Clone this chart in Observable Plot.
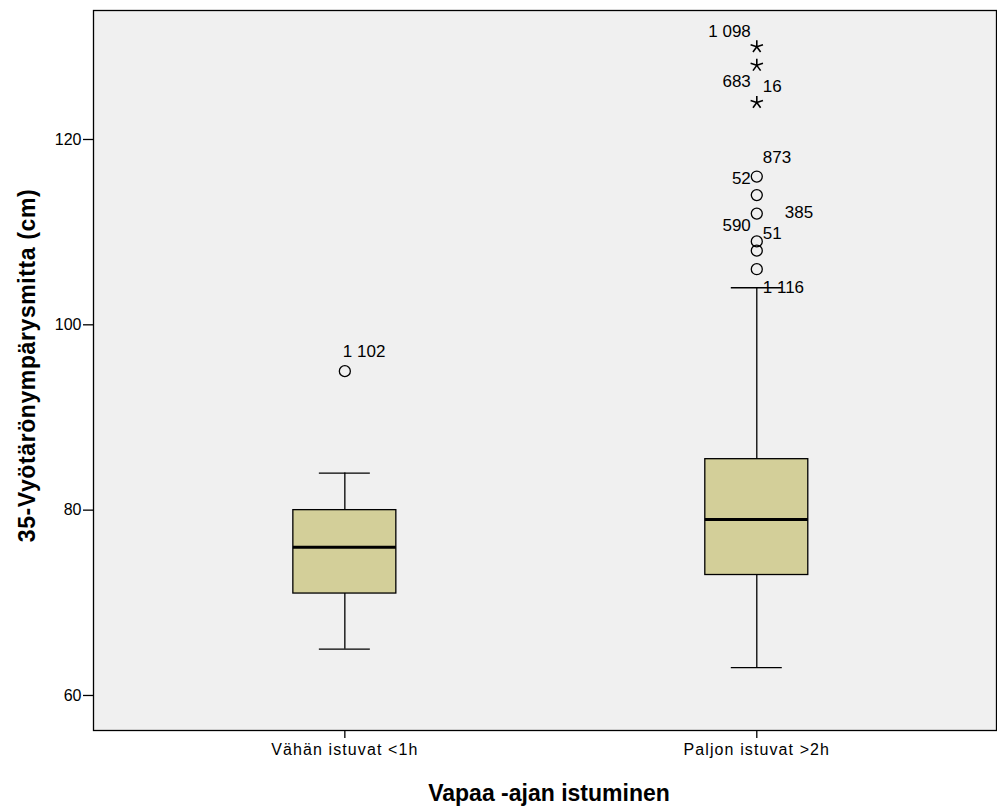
<!DOCTYPE html>
<html>
<head>
<meta charset="utf-8">
<script src="https://cdn.jsdelivr.net/npm/d3@7"></script>
<script src="https://cdn.jsdelivr.net/npm/@observablehq/plot@0.6"></script>
<style>
  html, body { margin: 0; padding: 0; background: #ffffff; }
  #chart { width: 997px; height: 808px; }
  #chart g[aria-label="x-axis tick label"] text { letter-spacing: 1.1px; }
  #chart g.ytitle text { letter-spacing: 0.6px; }
</style>
</head>
<body>
<div id="chart"></div>
<script>
// ---- data ----
const groups = ["Vähän istuvat <1h", "Paljon istuvat >2h"];
const whiskerLow = [65, 63];
const q1 = [71, 73];
const median = [76, 79];
const q3 = [80, 85.5];
const whiskerHigh = [84, 104];

// outliers: group index, value, kind ("o" = outlier, "*" = extreme)
const outlierGroup = [0, 1, 1, 1, 1, 1, 1, 1, 1, 1];
const outlierValue = [95, 116, 114, 112, 109, 108, 106, 130, 128, 124];
const outlierKind  = ["o", "o", "o", "o", "o", "o", "o", "*", "*", "*"];

// case labels for outliers: text, group index, value at label, side
const caseLabels     = ["1 102", "1 098", "683", "16", "873", "52", "385", "590", "51", "1 116"];
const caseLabelGroup = [0, 1, 1, 1, 1, 1, 1, 1, 1, 1];
const caseLabelValue = [97.1, 131.6, 126.3, 125.7, 118.0, 115.8, 112.1, 110.7, 109.8, 104.0];
const caseLabelSide  = ["top", "left", "left", "right", "right", "left", "far", "left", "right", "right"];

const yTicks = [60, 80, 100, 120];
const xTitle = "Vapaa -ajan istuminen";
const yTitle = "35-Vyötärönympärysmitta (cm)";

// ---- tables ----
const stats = groups.map((g, i) => ({
  group: g, lo: whiskerLow[i], q1: q1[i], med: median[i], q3: q3[i], hi: whiskerHigh[i]
}));
const outliers = outlierValue.map((v, i) => ({group: groups[outlierGroup[i]], value: v, kind: outlierKind[i]}));
const labels = caseLabels.map((t, i) => ({text: t, group: groups[caseLabelGroup[i]], value: caseLabelValue[i], side: caseLabelSide[i]}));

const star5 = {
  draw(context, size) {
    const r = Math.sqrt(size / Math.PI);
    for (let k = 0; k < 5; ++k) {
      const a = (-90 + 72 * k) * Math.PI / 180;
      context.moveTo(0, 0);
      context.lineTo(r * Math.cos(a), r * Math.sin(a));
    }
  }
};

const font = "'Liberation Sans', Arial, sans-serif";

const chart = Plot.plot({
  width: 997,
  height: 808,
  marginLeft: 93,
  marginRight: 1,
  marginTop: 10,
  marginBottom: 78,
  style: {fontFamily: font, fontSize: "16px", background: "#ffffff", color: "#000"},
  x: {type: "band", domain: groups, paddingInner: 0.75, paddingOuter: 0.471, align: 0.515, round: false, label: null},
  y: {domain: [56.22, 133.92], label: null},
  marks: [
    Plot.frame({fill: "#f0f0f0", stroke: null}),
    Plot.axisY({ticks: yTicks, tickSize: 10, tickPadding: 2, fontSize: 16, label: null, stroke: "#000", strokeWidth: 1.3}),
    Plot.axisX({tickSize: 8, tickPadding: 5, fontSize: 16, label: null, stroke: "#000", strokeWidth: 1.3}),
    // whiskers
    Plot.ruleX(stats, {x: "group", y1: "q3", y2: "hi", stroke: "#000", strokeWidth: 1.3}),
    Plot.ruleX(stats, {x: "group", y1: "lo", y2: "q1", stroke: "#000", strokeWidth: 1.3}),
    Plot.tickY(stats, {x: "group", y: "hi", insetLeft: 26, insetRight: 26, stroke: "#000", strokeWidth: 1.3}),
    Plot.tickY(stats, {x: "group", y: "lo", insetLeft: 26, insetRight: 26, stroke: "#000", strokeWidth: 1.3}),
    // boxes
    Plot.barY(stats, {x: "group", y1: "q1", y2: "q3", fill: "#d3cf99", stroke: "#000", strokeWidth: 1.3}),
    Plot.tickY(stats, {x: "group", y: "med", stroke: "#000", strokeWidth: 3}),
    // outliers
    Plot.dot(outliers.filter(d => d.kind === "o"), {x: "group", y: "value", r: 5.5, stroke: "#000", strokeWidth: 1.3, fill: "none"}),
    Plot.dot(outliers.filter(d => d.kind === "*"), {x: "group", y: "value", r: 6.5, symbol: star5, stroke: "#000", strokeWidth: 1.6, fill: "none"}),
    // case labels
    Plot.text(labels.filter(d => d.side === "left"), {x: "group", y: "value", text: "text", textAnchor: "end", dx: -6, fontSize: 17, fill: "#000"}),
    Plot.text(labels.filter(d => d.side === "right"), {x: "group", y: "value", text: "text", textAnchor: "start", dx: 6, fontSize: 17, fill: "#000"}),
    Plot.text(labels.filter(d => d.side === "far"), {x: "group", y: "value", text: "text", textAnchor: "start", dx: 28, fontSize: 17, fill: "#000"}),
    Plot.text(labels.filter(d => d.side === "top"), {x: "group", y: "value", text: "text", textAnchor: "start", dx: -2, fontSize: 17, fill: "#000"}),
    // frame border
    Plot.frame({stroke: "#000", strokeWidth: 1.3}),
    // axis titles
    Plot.text([xTitle], {frameAnchor: "bottom", textAnchor: "middle", lineAnchor: "middle", dy: 63, dx: 4, fontSize: 23, fontWeight: "bold", fill: "#000"}),
    Plot.text([yTitle], {frameAnchor: "left", textAnchor: "middle", lineAnchor: "middle", rotate: -90, dx: -66, dy: -5, fontSize: 23, fontWeight: "bold", fill: "#000", className: "ytitle"})
  ]
});
document.getElementById("chart").appendChild(chart);
</script>
</body>
</html>
